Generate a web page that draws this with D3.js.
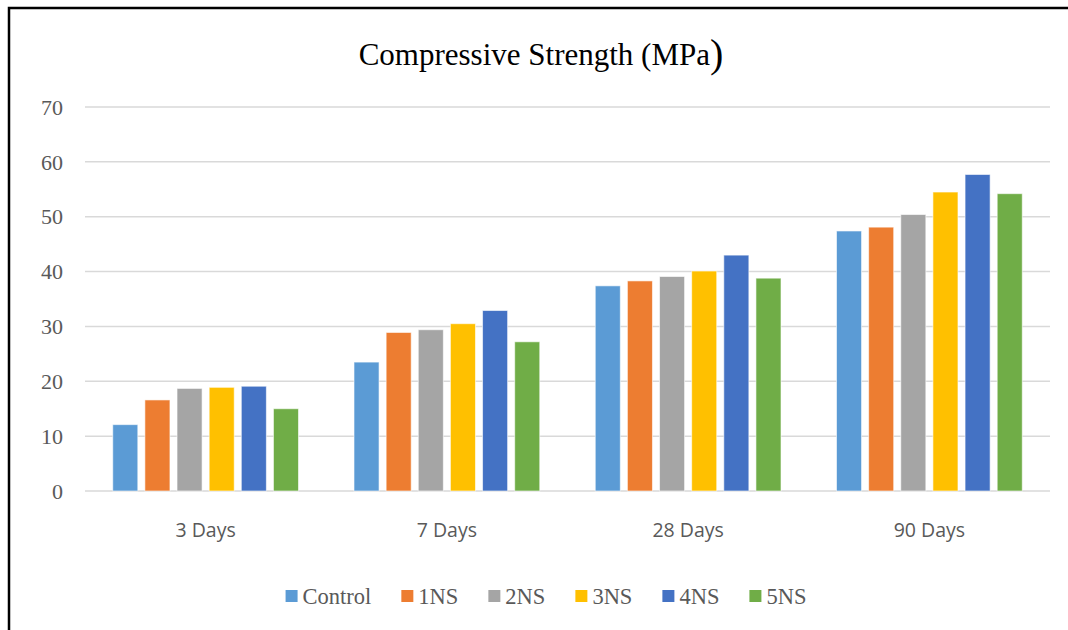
<!DOCTYPE html>
<html>
<head>
<meta charset="utf-8">
<script src="https://cdn.jsdelivr.net/npm/d3@7"></script>
<style>
  body { margin: 0; background: #fff; }
</style>
</head>
<body>
<div id="chart"></div>
<script>
const categories = ['3 Days', '7 Days', '28 Days', '90 Days'];
const seriesNames = ['Control', '1NS', '2NS', '3NS', '4NS', '5NS'];
const control = [12.1, 23.5, 37.4, 47.4];
const ns1 = [16.6, 28.9, 38.3, 48.1];
const ns2 = [18.7, 29.4, 39.1, 50.4];
const ns3 = [18.9, 30.5, 40.1, 54.5];
const ns4 = [19.1, 32.9, 43.0, 57.7];
const ns5 = [15.0, 27.2, 38.8, 54.2];
const yTicks = [0, 10, 20, 30, 40, 50, 60, 70];

const colors = ['#5B9BD5', '#ED7D31', '#A5A5A5', '#FFC000', '#4472C4', '#70AD47'];
const allSeries = [control, ns1, ns2, ns3, ns4, ns5];

// one row per category, one column per series
const table = categories.map((c, i) => {
  const row = {cat: c};
  seriesNames.forEach((s, j) => { row[s] = allSeries[j][i]; });
  return row;
});

const W = 1068, H = 630;
const margin = {top: 107, right: 18, bottom: 139, left: 85};

const svg = d3.select('#chart').append('svg')
  .attr('width', W)
  .attr('height', H);

// frame (top + left edges visible)
svg.append('path')
  .attr('d', `M9,${H} V8 H${W}`)
  .attr('fill', 'none')
  .attr('stroke', '#000')
  .attr('stroke-width', 2.5);

const x0 = d3.scaleBand()
  .domain(categories)
  .range([margin.left, W - margin.right])
  .paddingInner(0.23)
  .paddingOuter(0.115);

const x1 = d3.scaleBand()
  .domain(seriesNames)
  .range([0, x0.bandwidth()])
  .paddingInner(0.22)
  .paddingOuter(0);

const y = d3.scaleLinear()
  .domain([0, 70])
  .range([H - margin.bottom, margin.top]);

// gridlines
svg.append('g')
  .selectAll('line')
  .data(yTicks)
  .enter()
  .append('line')
  .attr('x1', margin.left)
  .attr('x2', W - margin.right)
  .attr('y1', d => y(d))
  .attr('y2', d => y(d))
  .attr('stroke', '#D9D9D9')
  .attr('stroke-width', 1.5);

// y labels
svg.append('g')
  .selectAll('text')
  .data(yTicks)
  .enter()
  .append('text')
  .attr('x', 63)
  .attr('y', d => y(d))
  .attr('dy', '0.35em')
  .attr('text-anchor', 'end')
  .attr('font-family', '"Liberation Serif", "Times New Roman", serif')
  .attr('font-size', 22)
  .attr('fill', '#595959')
  .text(d => d);

// bars
const groups = svg.append('g')
  .selectAll('g')
  .data(table)
  .enter()
  .append('g')
  .attr('transform', d => `translate(${x0(d.cat)},0)`);

groups.selectAll('rect')
  .data(d => seriesNames.map((s, j) => ({key: s, value: d[s], i: j})))
  .enter()
  .append('rect')
  .attr('x', d => x1(d.key))
  .attr('width', x1.bandwidth())
  .attr('y', d => y(d.value))
  .attr('height', d => y(0) - y(d.value))
  .attr('fill', d => colors[d.i])
  .attr('stroke', '#fff')
  .attr('stroke-opacity', 0.6)
  .attr('stroke-width', 1);

// x labels
svg.append('g')
  .selectAll('text')
  .data(categories)
  .enter()
  .append('text')
  .attr('x', d => x0(d) + x0.bandwidth() / 2)
  .attr('y', 537)
  .attr('text-anchor', 'middle')
  .attr('font-family', '"Open Sans", sans-serif')
  .attr('font-size', 19.5)
  .attr('fill', '#595959')
  .text(d => d);

// title
const title = svg.append('text')
  .attr('x', 541)
  .attr('y', 65)
  .attr('text-anchor', 'middle')
  .attr('font-family', '"Liberation Serif", "Times New Roman", serif')
  .attr('font-size', 31)
  .attr('fill', '#000');
title.append('tspan').text('Compressive Strength (MPa');
title.append('tspan').attr('font-size', 40).attr('dy', 2).text(')');

// legend
const legend = svg.append('g');
let lx = 0;
const gap = 30;
seriesNames.forEach((s, i) => {
  const item = legend.append('g').attr('transform', `translate(${lx},0)`);
  item.append('rect')
    .attr('x', 0)
    .attr('y', -6)
    .attr('width', 12)
    .attr('height', 12)
    .attr('fill', colors[i]);
  const t = item.append('text')
    .attr('x', 17)
    .attr('y', 0)
    .attr('dy', '0.35em')
    .attr('font-family', '"Liberation Serif", "Times New Roman", serif')
    .attr('font-size', 22.5)
    .attr('fill', '#595959')
    .text(s);
  lx += 17 + t.node().getComputedTextLength() + gap;
});
const legendW = lx - gap;
legend.attr('transform', `translate(${546 - legendW / 2},596)`);
</script>
</body>
</html>
